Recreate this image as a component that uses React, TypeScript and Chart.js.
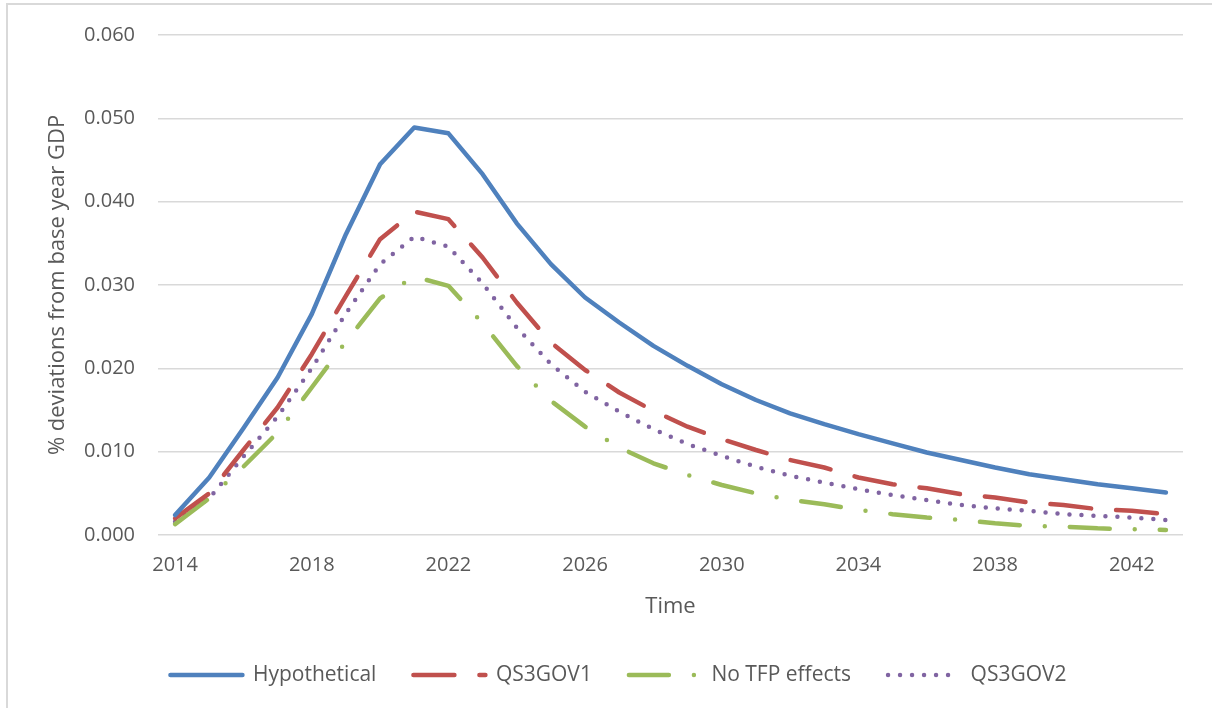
import React, { useEffect, useRef } from "react";
import { Chart, registerables } from "chart.js";

Chart.register(...registerables);

const years = [
  "2014", "2015", "2016", "2017", "2018", "2019", "2020", "2021", "2022", "2023",
  "2024", "2025", "2026", "2027", "2028", "2029", "2030", "2031", "2032", "2033",
  "2034", "2035", "2036", "2037", "2038", "2039", "2040", "2041", "2042", "2043",
];

const hypothetical = [
  0.0024, 0.0069, 0.0128, 0.0189, 0.0265, 0.0361, 0.0445, 0.0489, 0.0482, 0.0433,
  0.0374, 0.0325, 0.0285, 0.0255, 0.0227, 0.0203, 0.0181, 0.0162, 0.0146, 0.0133,
  0.0121, 0.0110, 0.0099, 0.0090, 0.0081, 0.0073, 0.0067, 0.0061, 0.0056, 0.0051,
];

const qs3gov1 = [
  0.0020, 0.0050, 0.0102, 0.0153, 0.0217, 0.0287, 0.0355, 0.0388, 0.0379, 0.0333,
  0.0279, 0.0231, 0.0198, 0.0171, 0.0149, 0.0130, 0.0115, 0.0102, 0.0090, 0.0081,
  0.0069, 0.0061, 0.0056, 0.0049, 0.0045, 0.0039, 0.0036, 0.0031, 0.0029, 0.0025,
];

const noTfp = [
  0.0013, 0.0044, 0.0082, 0.0123, 0.0177, 0.0232, 0.0284, 0.0310, 0.0299, 0.0254,
  0.0203, 0.0161, 0.0130, 0.0105, 0.0086, 0.0072, 0.0060, 0.0050, 0.0042, 0.0037,
  0.0030, 0.0025, 0.0021, 0.0018, 0.0014, 0.0011, 0.0010, 0.0008, 0.0007, 0.0006,
];

const qs3gov2 = [
  0.0016, 0.0044, 0.0094, 0.0142, 0.0200, 0.0266, 0.0325, 0.0358, 0.0346, 0.0302,
  0.0249, 0.0205, 0.0172, 0.0148, 0.0127, 0.0109, 0.0095, 0.0082, 0.0071, 0.0063,
  0.0055, 0.0048, 0.0042, 0.0036, 0.0032, 0.0029, 0.0025, 0.0023, 0.0021, 0.0018,
];

const seriesNames = ["Hypothetical", "QS3GOV1", "No TFP effects", "QS3GOV2"];
const xTitle = "Time";
const yTitle = "% deviations from base year GDP";

export default function App() {
  const canvasRef = useRef<HTMLCanvasElement | null>(null);

  useEffect(() => {
    document.body.style.margin = "0";
    const canvas = canvasRef.current;
    if (!canvas) return;
    const textColor = "#595959";
    const font = "'Open Sans', 'Noto Sans', sans-serif";
    const common = {
      fill: false,
      pointRadius: 0,
      pointHoverRadius: 0,
      tension: 0,
      borderWidth: 4.5,
      borderCapStyle: "round" as const,
      borderJoinStyle: "round" as const,
    };
    const chart = new Chart(canvas, {
      type: "line",
      data: {
        labels: years,
        datasets: [
          { ...common, label: seriesNames[0], data: hypothetical, borderColor: "#4f81bd", backgroundColor: "#4f81bd", borderDash: [] },
          { ...common, label: seriesNames[1], data: qs3gov1, borderColor: "#c0504d", backgroundColor: "#c0504d", borderDash: [41, 25] },
          { ...common, label: seriesNames[2], data: noTfp, borderColor: "#9bbb59", backgroundColor: "#9bbb59", borderDash: [40, 25, 0, 25] },
          { ...common, label: seriesNames[3], data: qs3gov2, borderColor: "#8064a2", backgroundColor: "#8064a2", borderDash: [0, 12] },
        ],
      },
      options: {
        responsive: false,
        animation: false,
        events: [],
        layout: { padding: { top: 33, right: 0, left: 25, bottom: 12.5 } },
        plugins: {
          tooltip: { enabled: false },
          legend: {
            position: "bottom",
            labels: {
              usePointStyle: true,
              pointStyle: "line",
              pointStyleWidth: 72,
              padding: 37,
              color: textColor,
              font: { family: font, size: 21 },
              generateLabels: (c: any) =>
                c.data.datasets.map((ds: any, i: number) => ({
                  text: ds.label,
                  fillStyle: ds.borderColor,
                  strokeStyle: ds.borderColor,
                  lineWidth: ds.borderWidth,
                  lineDash: ds.borderDash || [],
                  lineDashOffset: 0,
                  lineCap: "round",
                  lineJoin: "round",
                  pointStyle: "line",
                  hidden: false,
                  datasetIndex: i,
                  fontColor: textColor,
                })),
            },
          },
        },
        scales: {
          x: {
            type: "category",
            offset: true,
            afterFit: (s: any) => { s.height = 92.5; },
            grid: { display: false, drawTicks: false },
            border: { display: false },
            ticks: {
              autoSkip: false,
              maxRotation: 0,
              padding: 18.5,
              color: textColor,
              font: { family: font, size: 20 },
              callback: (_v: any, i: number) => (i % 4 === 0 ? years[i] : ""),
            },
            title: {
              display: true,
              text: xTitle,
              color: textColor,
              font: { family: font, size: 22 },
              padding: { top: 0, bottom: 7.8 },
            },
          },
          y: {
            min: 0,
            max: 0.06,
            afterFit: (s: any) => { s.width = 133; },
            grid: { color: "#d9d9d9", lineWidth: 1.5, drawTicks: false },
            border: { display: false },
            ticks: {
              stepSize: 0.01,
              padding: 23,
              color: textColor,
              font: { family: font, size: 20 },
              callback: (v: any) => Number(v).toFixed(3),
            },
            title: {
              display: true,
              text: yTitle,
              color: textColor,
              font: { family: font, size: 22 },
              padding: { top: 19.8, bottom: 0 },
            },
          },
          yRightSpace: {
            position: "right",
            display: true,
            afterFit: (s: any) => { s.width = 29; },
            grid: { display: false, drawTicks: false },
            border: { display: false },
            ticks: { display: false },
          },
        },
      },
    });
    return () => chart.destroy();
  }, []);

  return (
    <div style={{ position: "relative", width: 1212, height: 708, overflow: "hidden", background: "#fff" }}>
      <canvas ref={canvasRef} width={1212} height={708} style={{ display: "block" }} />
      <div
        style={{
          position: "absolute",
          left: 6,
          top: 3,
          width: 1300,
          height: 800,
          borderLeft: "2px solid #d9d9d9",
          borderTop: "2px solid #d9d9d9",
          pointerEvents: "none",
        }}
      />
    </div>
  );
}
